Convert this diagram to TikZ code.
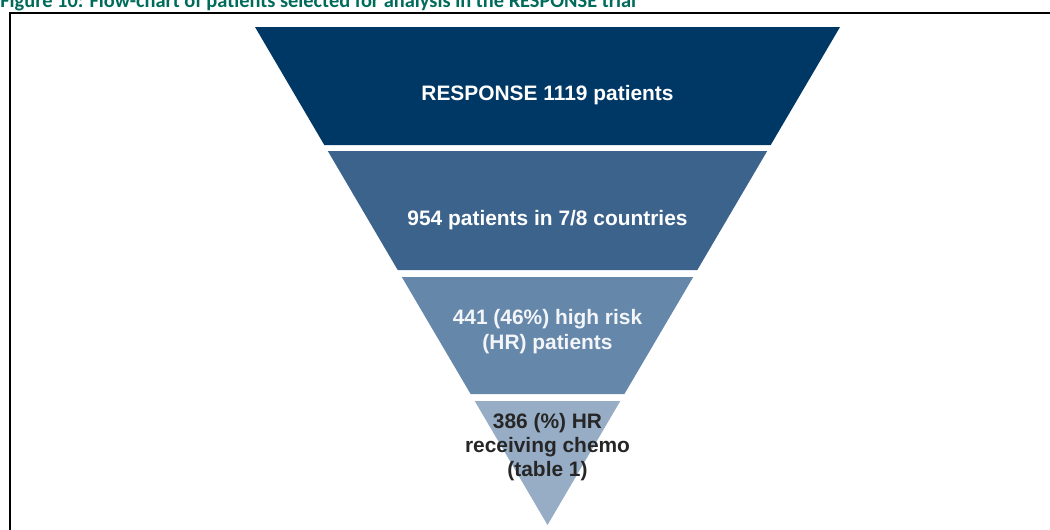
\documentclass[tikz,border=0pt]{standalone}
\usepackage{fontspec}
\setmainfont{Liberation Sans}
\newfontfamily\captionfont{Carlito}

\definecolor{capgreen}{RGB}{0,107,90}
\definecolor{bandA}{RGB}{0,56,101}
\definecolor{bandB}{RGB}{60,99,140}
\definecolor{bandC}{RGB}{101,135,170}
\definecolor{bandD}{RGB}{151,173,197}

\begin{document}
\begin{tikzpicture}[x=0.02cm, y=-0.02cm]
    \useasboundingbox (0,0) rectangle (1050,529);
    \clip (0,0) rectangle (1050,529);

    % caption above the box (cut at the top)
    \node[anchor=base west, inner sep=0, text=capgreen,
          font=\captionfont\bfseries\fontsize{11.6}{13}\selectfont]
        (caption) at (0,7) {Figure 10: Flow-chart of patients selected for analysis in the RESPONSE trial};

    % box round the chart
    \draw[line width=1.1pt] (10,560) -- (10,13) -- (1100,13);

    % funnel, four bands
    \fill[bandA] (255,27) -- (840,27) -- (770.7,145) -- (324.3,145) -- cycle;
    \fill[bandB] (327.8,151) -- (767.2,151) -- (697.3,270) -- (397.7,270) -- cycle;
    \fill[bandC] (401.8,277) -- (693.2,277) -- (624.4,394) -- (470.6,394) -- cycle;
    \fill[bandD] (474.7,401) -- (620.3,401) -- (547.5,525) -- cycle;

    % band texts
    \node[text=white, font=\bfseries\fontsize{11.9}{14.2}\selectfont]
        (total) at (547.5,95) {RESPONSE 1119 patients};
    \node[text=white, font=\bfseries\fontsize{11.9}{14.2}\selectfont]
        (countries) at (547.5,220) {954 patients in 7/8 countries};
    \node[text=white!92!bandC, align=center, font=\bfseries\fontsize{11.9}{14.2}\selectfont]
        (highrisk) at (547.5,332) {441 (46\%) high risk\\(HR) patients};
    \node[text=black!85, align=center, font=\bfseries\fontsize{11.9}{13.6}\selectfont]
        (chemo) at (547.5,447) {386 (\%) HR\\receiving chemo\\(table 1)};
\end{tikzpicture}
\end{document}
